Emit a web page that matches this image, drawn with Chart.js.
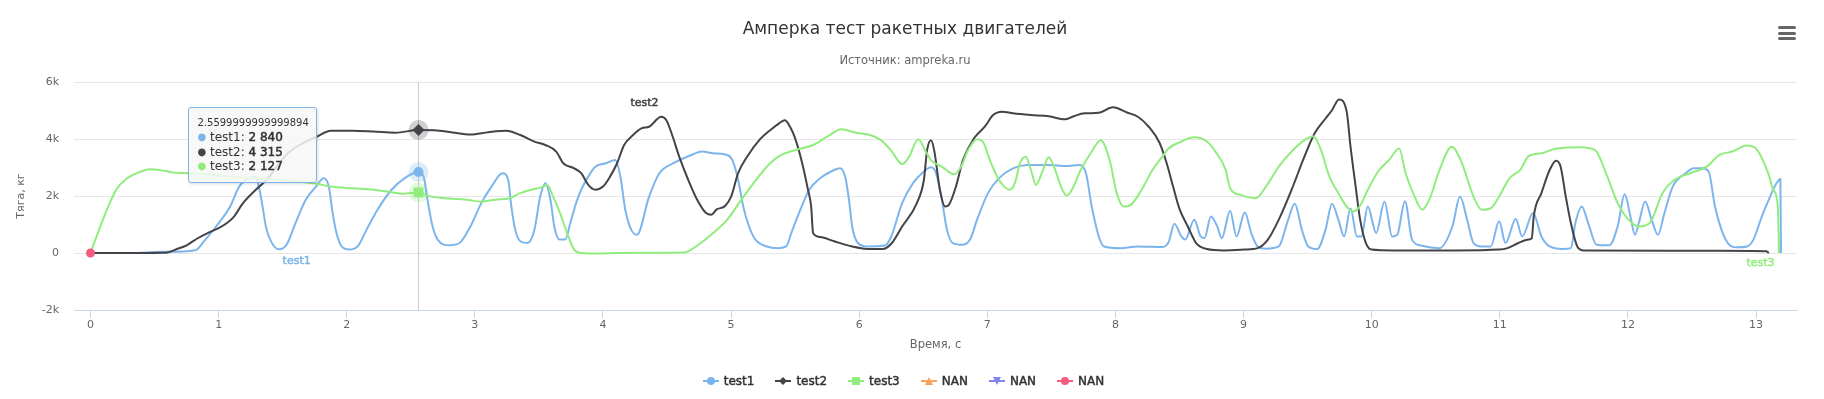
<!DOCTYPE html>
<html>
<head>
<meta charset="utf-8">
<script src="https://cdn.jsdelivr.net/npm/chart.js@4.4.1/dist/chart.umd.min.js"></script>
<style>
html,body{margin:0;padding:0;background:#ffffff;}
#wrap{position:relative;width:1824px;height:399px;overflow:hidden;font-family:"DejaVu Sans",sans-serif;}
#c{position:absolute;left:0;top:0;}
#title{position:absolute;left:0;width:1810px;top:17px;text-align:center;font-size:17px;line-height:22px;color:#333333;}
#subtitle{position:absolute;left:0;width:1810px;top:52px;text-align:center;font-size:11.5px;line-height:16px;color:#666666;}
#menu{position:absolute;left:1778px;top:26px;width:18px;height:15px;}
#menu div{position:absolute;left:0;width:18px;height:3px;border-radius:1.5px;background:#666666;}
#legend{position:absolute;left:0;width:1807px;top:373px;height:16px;display:flex;justify-content:center;align-items:center;}
.li{display:flex;align-items:center;margin-right:21px;}
.li:last-child{margin-right:0;}
.li span{margin-left:5px;font-size:12px;line-height:16px;color:#333333;-webkit-text-stroke:0.45px #333333;}
.li svg{display:block;}
#tip{position:absolute;box-sizing:border-box;width:129px;height:76px;background:rgba(247,247,247,0.85);border:1px solid #7cb5ec;border-radius:3px;box-shadow:1px 1px 3px rgba(0,0,0,0.15);padding:8px 0 0 8px;color:#333333;}
#tip .h{font-size:10px;line-height:14px;height:14px;white-space:nowrap;}
#tip .r{font-size:12px;line-height:14.7px;height:14.7px;white-space:nowrap;}
#tip .dot{font-size:10px;display:inline-block;width:12.5px;vertical-align:top;}
#tip b{font-weight:normal;-webkit-text-stroke:0.5px #333333;}
</style>
</head>
<body>
<div id="wrap">
  <canvas id="c" width="1824" height="399"></canvas>
  <div id="title">Амперка тест ракетных двигателей</div>
  <div id="subtitle">Источник: ampreka.ru</div>
  <div id="menu"><div style="top:0px"></div><div style="top:5.5px"></div><div style="top:11px"></div></div>
  <div id="legend"></div>
  <div id="tip"></div>
</div>
<script>
// ---- data ----
const seriesNames = ['test1', 'test2', 'test3', 'NAN', 'NAN', 'NAN'];
const seriesColors = ['#7cb5ec', '#434348', '#90ed7d', '#f7a35c', '#8085e9', '#f15c80'];
const seriesMarkers = ['circle', 'diamond', 'square', 'triangle', 'triangle-down', 'circle'];

const tooltipX = 2.5599999999999894;

const t1 = [0,0.30,0.56,0.82,0.885,0.98,1.09,1.16,1.22,1.28,1.31,1.34,1.37,1.41,1.47,1.53,1.60,1.68,1.76,1.82,1.86,1.89,1.92,1.96,2.02,2.085,2.155,2.24,2.35,2.45,2.5599999999999894,2.60,2.63,2.67,2.71,2.80,2.88,2.965,3.05,3.13,3.215,3.26,3.285,3.315,3.355,3.41,3.465,3.51,3.55,3.59,3.62,3.66,3.705,3.745,3.79,3.83,3.885,3.94,4.025,4.095,4.135,4.175,4.22,4.265,4.36,4.44,4.55,4.69,4.775,4.86,4.97,5.01,5.055,5.095,5.14,5.19,5.28,5.36,5.43,5.47,5.53,5.61,5.695,5.78,5.85,5.89,5.92,5.945,5.99,6.06,6.20,6.25,6.335,6.42,6.505,6.56,6.60,6.645,6.685,6.73,6.81,6.865,6.92,7.005,7.09,7.20,7.31,7.48,7.62,7.715,7.77,7.815,7.87,7.91,8.04,8.175,8.37,8.415,8.46,8.515,8.545,8.615,8.665,8.695,8.745,8.795,8.83,8.895,8.945,9.01,9.06,9.11,9.175,9.275,9.34,9.40,9.455,9.505,9.575,9.64,9.69,9.74,9.785,9.835,9.885,9.92,9.97,10.035,10.10,10.16,10.20,10.26,10.315,10.385,10.53,10.63,10.69,10.745,10.795,10.86,10.93,10.995,11.045,11.125,11.175,11.26,11.325,11.39,11.49,11.555,11.59,11.64,11.69,11.755,11.855,11.92,11.975,12.02,12.055,12.085,12.135,12.185,12.235,12.285,12.35,12.45,12.515,12.58,12.63,12.68,12.73,12.78,12.845,12.93,12.98,13.045,13.11,13.16,13.19,13.195];
const v1 = [0,0,40,100,410,930,1630,2330,2570,2680,2400,1700,900,400,130,290,1050,1870,2330,2620,2330,1400,700,230,120,230,820,1520,2220,2620,2840,2680,1870,930,470,270,350,930,1750,2330,2800,2570,1630,820,410,350,820,1980,2450,1870,930,470,470,1050,1750,2220,2680,3030,3150,3260,2700,1500,820,640,1980,2800,3150,3440,3560,3500,3440,3260,2570,1630,930,470,230,170,230,700,1400,2220,2620,2860,2970,2680,1870,930,350,230,260,580,1750,2450,2860,3010,2800,1870,820,350,290,470,1170,2100,2620,2970,3090,3090,3050,3090,2800,1630,580,230,170,230,210,380,1030,580,470,1170,580,520,1280,930,520,1480,580,1420,700,230,150,230,1050,1730,820,230,140,820,1730,1170,580,1570,580,580,1630,700,1800,580,640,1820,470,260,170,930,1980,1170,350,230,230,1110,350,1190,580,1400,580,230,140,170,1050,1630,1050,290,270,930,2060,1280,640,1050,1810,1170,640,1400,2330,2800,2970,2970,2860,1630,820,350,200,230,470,1280,1980,2450,2600,0];

const t2 = [0,0.30,0.56,0.60,0.67,0.75,0.83,0.93,1.00,1.065,1.12,1.19,1.29,1.375,1.455,1.54,1.655,1.765,1.875,2.045,2.21,2.38,2.5599999999999894,2.685,2.825,2.965,3.105,3.245,3.355,3.465,3.55,3.635,3.69,3.775,3.83,3.885,3.94,4.00,4.055,4.11,4.165,4.235,4.30,4.36,4.455,4.495,4.54,4.595,4.665,4.735,4.805,4.845,4.885,4.955,5.00,5.055,5.125,5.22,5.305,5.375,5.42,5.46,5.50,5.555,5.60,5.625,5.64,5.695,5.805,5.945,6.085,6.185,6.255,6.335,6.45,6.505,6.53,6.56,6.585,6.63,6.67,6.70,6.755,6.81,6.895,6.98,7.045,7.115,7.20,7.34,7.48,7.605,7.675,7.76,7.87,7.98,8.09,8.175,8.26,8.345,8.40,8.45,8.50,8.565,8.63,8.715,8.845,9.01,9.11,9.19,9.275,9.375,9.475,9.555,9.64,9.69,9.745,9.805,9.835,9.875,9.91,9.955,10.00,10.17,10.665,10.995,11.06,11.145,11.225,11.25,11.265,11.325,11.39,11.44,11.475,11.515,11.555,11.605,11.655,12.32,12.98,13.08,13.10];
const v2 = [0,0,10,20,130,270,500,735,870,1050,1280,1750,2220,2570,3030,3500,3850,4080,4290,4290,4260,4220,4315,4310,4230,4160,4240,4290,4140,3910,3790,3560,3150,2970,2800,2390,2220,2330,2680,3150,3790,4140,4370,4430,4780,4660,4140,3380,2570,1870,1400,1340,1520,1660,1980,2800,3380,3960,4310,4550,4660,4430,4020,3150,2220,1630,700,560,410,230,140,140,350,930,1750,2570,3610,3960,3610,2220,1630,1690,2330,3260,4020,4430,4840,4960,4900,4840,4800,4690,4800,4900,4920,5110,4930,4780,4430,3860,3150,2330,1550,930,350,140,90,120,170,470,1170,2220,3380,4200,4720,5010,5390,4960,3730,2330,1170,350,120,90,90,120,170,350,470,520,1280,2100,2920,3240,3030,1980,1050,230,90,80,70,60,0];

const t3 = [0,0.047,0.117,0.20,0.285,0.37,0.465,0.565,0.65,0.76,0.90,1.095,1.26,1.43,1.60,1.765,1.875,2.045,2.21,2.35,2.435,2.5599999999999894,2.615,2.685,2.80,2.935,3.05,3.16,3.27,3.355,3.44,3.525,3.565,3.605,3.665,3.72,3.775,3.83,3.97,4.11,4.30,4.635,4.745,4.86,4.97,5.08,5.195,5.305,5.39,5.50,5.64,5.75,5.86,5.975,6.085,6.17,6.255,6.335,6.39,6.46,6.52,6.56,6.645,6.74,6.795,6.85,6.92,6.965,7.02,7.09,7.175,7.215,7.255,7.30,7.34,7.38,7.425,7.48,7.52,7.575,7.62,7.66,7.73,7.815,7.885,7.955,8.01,8.065,8.12,8.205,8.29,8.37,8.415,8.515,8.615,8.715,8.78,8.86,8.895,8.975,9.095,9.175,9.275,9.375,9.475,9.545,9.605,9.67,9.74,9.805,9.855,9.905,9.97,10.05,10.135,10.215,10.265,10.335,10.395,10.45,10.53,10.625,10.695,10.795,10.86,10.93,10.995,11.075,11.16,11.225,11.325,11.425,11.525,11.625,11.705,11.755,11.84,11.92,12.005,12.085,12.17,12.27,12.365,12.485,12.615,12.715,12.815,12.93,13.01,13.095,13.135,13.17,13.18];
const v3 = [0,580,1400,2220,2620,2820,2940,2890,2820,2800,2760,2680,2620,2570,2510,2430,2330,2270,2220,2130,2080,2127,2040,1960,1910,1870,1800,1870,1920,2100,2220,2310,2390,2040,1400,700,120,0,-20,0,10,20,290,700,1170,1870,2570,3150,3440,3610,3790,4080,4340,4220,4140,3960,3560,3120,3380,3990,3560,3260,3030,2760,3030,3610,3990,3910,3260,2570,2220,2450,3150,3380,2920,2390,2800,3360,3030,2330,2010,2220,2920,3560,3960,3260,2100,1630,1690,2220,2920,3400,3670,3910,4060,3910,3560,2920,2270,2040,1920,2330,3030,3560,3960,4100,3610,2680,2100,1630,1460,1630,2220,2860,3260,3670,2800,1980,1520,1870,2920,3730,3260,1980,1520,1570,1980,2620,2920,3400,3500,3650,3700,3710,3670,3560,2680,1750,1170,930,1050,2100,2570,2800,3030,3440,3560,3770,3610,2800,2220,1650,0];

const nanTimes = [0];
const nanValues = [0];

const xTicks = [0,1,2,3,4,5,6,7,8,9,10,11,12,13];
const yTicks = [-2000, 0, 2000, 4000, 6000];
const yTickLabels = ['-2k', '0', '2k', '4k', '6k'];

// label anchors (series index, x in seconds, y in kg)
const labelAnchors = [
  {s: 0, x: 1.609, y: -281},
  {s: 1, x: 4.324, y: 5263},
  {s: 2, x: 13.035, y: -351}
];

// ---- build chart ----
const seriesTimes = [t1, t2, t3, nanTimes, nanTimes, nanTimes];
const seriesValues = [v1, v2, v3, nanValues, nanValues, nanValues];
const hoverRadius = [5, 6, 7];
const haloColors = ['rgba(124,181,236,0.25)', 'rgba(67,67,72,0.25)', 'rgba(144,237,125,0.25)'];
const styleMap = {circle: 'circle', diamond: 'rectRot', square: 'rect', triangle: 'triangle', 'triangle-down': 'triangle'};

const datasets = seriesNames.map((name, i) => {
  const pts = seriesTimes[i].map((t, k) => ({x: t, y: seriesValues[i][k]}));
  const isMain = i < 3;
  return {
    label: name,
    data: pts,
    borderColor: seriesColors[i],
    backgroundColor: seriesColors[i],
    borderWidth: 2,
    pointStyle: styleMap[seriesMarkers[i]],
    rotation: seriesMarkers[i] === 'triangle-down' ? 180 : 0,
    pointBorderWidth: 0,
    pointRadius: isMain ? (ctx => (ctx.raw && ctx.raw.x === tooltipX) ? hoverRadius[i] : 0) : 4.5,
    pointHoverRadius: isMain ? 0 : 4.5,
    cubicInterpolationMode: 'monotone',
    order: -i
  };
});

const overlayPlugin = {
  id: 'overlay',
  beforeDatasetsDraw(chart) {
    const {ctx, chartArea, scales: {x, y}} = chart;
    const px = Math.round(x.getPixelForValue(tooltipX)) + 0.5;
    ctx.save();
    ctx.strokeStyle = '#cccccc';
    ctx.lineWidth = 1;
    ctx.beginPath();
    ctx.moveTo(px, chartArea.top);
    ctx.lineTo(px, chartArea.bottom);
    ctx.stroke();
    for (let i = 0; i < 3; i++) {
      const k = seriesTimes[i].indexOf(tooltipX);
      if (k < 0) continue;
      ctx.fillStyle = haloColors[i];
      ctx.beginPath();
      ctx.arc(x.getPixelForValue(tooltipX), y.getPixelForValue(seriesValues[i][k]), 10, 0, Math.PI * 2);
      ctx.fill();
    }
    ctx.restore();
  },
  afterDatasetsDraw(chart) {
    const {ctx, scales: {x, y}} = chart;
    ctx.save();
    ctx.font = '11px "DejaVu Sans"';
    ctx.textAlign = 'center';
    ctx.textBaseline = 'middle';
    ctx.lineJoin = 'round';
    labelAnchors.forEach(a => {
      const px = x.getPixelForValue(a.x), py = y.getPixelForValue(a.y);
      const txt = seriesNames[a.s];
      ctx.strokeStyle = 'rgba(255,255,255,0.9)';
      ctx.lineWidth = 2.5;
      ctx.strokeText(txt, px, py);
      ctx.fillStyle = seriesColors[a.s];
      ctx.fillText(txt, px, py);
      ctx.strokeStyle = seriesColors[a.s];
      ctx.lineWidth = 0.5;
      ctx.strokeText(txt, px, py);
    });
    ctx.restore();
  }
};

const chart = new Chart(document.getElementById('c'), {
  type: 'line',
  data: {datasets},
  plugins: [overlayPlugin],
  options: {
    responsive: false,
    animation: false,
    events: [],
    layout: {padding: {top: 82, right: 27, bottom: 0, left: 0}},
    plugins: {
      legend: {display: false},
      tooltip: {enabled: false},
      title: {display: false}
    },
    scales: {
      x: {
        type: 'linear',
        min: -0.129,
        max: 13.32,
        afterBuildTicks: s => { s.ticks = xTicks.map(v => ({value: v})); },
        afterFit: s => { s.height = 89; },
        ticks: {
          font: {family: 'DejaVu Sans', size: 11},
          color: '#666666',
          padding: 1,
          maxRotation: 0,
          autoSkip: false,
          callback: v => String(v)
        },
        grid: {drawOnChartArea: false, drawTicks: true, tickLength: 8, color: '#ccd6eb', lineWidth: 1},
        border: {display: true, color: '#ccd6eb', width: 1},
        title: {
          display: true,
          text: 'Время, с',
          color: '#666666',
          font: {family: 'DejaVu Sans', size: 11.5},
          padding: {top: 0, bottom: 46.6}
        }
      },
      y: {
        type: 'linear',
        min: -2000,
        max: 6000,
        afterBuildTicks: s => { s.ticks = yTicks.map(v => ({value: v})); },
        afterFit: s => { s.width = 74; },
        ticks: {
          font: {family: 'DejaVu Sans', size: 11},
          color: '#666666',
          padding: 15,
          callback: v => yTickLabels[yTicks.indexOf(v)]
        },
        grid: {
          drawTicks: false,
          lineWidth: 1,
          color: ctx => (ctx.tick && ctx.tick.value === -2000) ? 'rgba(0,0,0,0)' : '#e6e6e6'
        },
        border: {display: false},
        title: {
          display: true,
          text: 'Тяга, кг',
          color: '#666666',
          font: {family: 'DejaVu Sans', size: 11},
          padding: {top: 15, bottom: 0}
        }
      }
    }
  }
});

// ---- legend (HTML) ----
function symbolSVG(color, m) {
  let s = '';
  if (m === 'circle') s = `<circle cx="8" cy="6" r="4" fill="${color}"/>`;
  if (m === 'diamond') s = `<path d="M8 2 L12 6 L8 10 L4 6 Z" fill="${color}"/>`;
  if (m === 'square') s = `<rect x="4" y="2" width="8" height="8" fill="${color}"/>`;
  if (m === 'triangle') s = `<path d="M8 2 L12 10 L4 10 Z" fill="${color}"/>`;
  if (m === 'triangle-down') s = `<path d="M4 2 L12 2 L8 10 Z" fill="${color}"/>`;
  return `<svg width="16" height="12" viewBox="0 0 16 12"><line x1="0" y1="6" x2="16" y2="6" stroke="${color}" stroke-width="2"/>${s}</svg>`;
}
document.getElementById('legend').innerHTML = seriesNames.map((n, i) =>
  `<div class="li">${symbolSVG(seriesColors[i], seriesMarkers[i])}<span>${n}</span></div>`).join('');

// ---- tooltip (HTML) ----
function fmt(v) { return String(Math.round(v)).replace(/\B(?=(\d{3})+(?!\d))/g, ' '); }
const tip = document.getElementById('tip');
let html = `<div class="h">${String(tooltipX)}</div>`;
for (let i = 0; i < 3; i++) {
  const k = seriesTimes[i].indexOf(tooltipX);
  html += `<div class="r"><span class="dot" style="color:${seriesColors[i]}">●</span>${seriesNames[i]}: <b>${fmt(seriesValues[i][k])}</b></div>`;
}
tip.innerHTML = html;
const tipPx = chart.scales.x.getPixelForValue(tooltipX);
tip.style.left = (tipPx - 230) + 'px';
tip.style.top = '107px';
</script>
</body>
</html>
